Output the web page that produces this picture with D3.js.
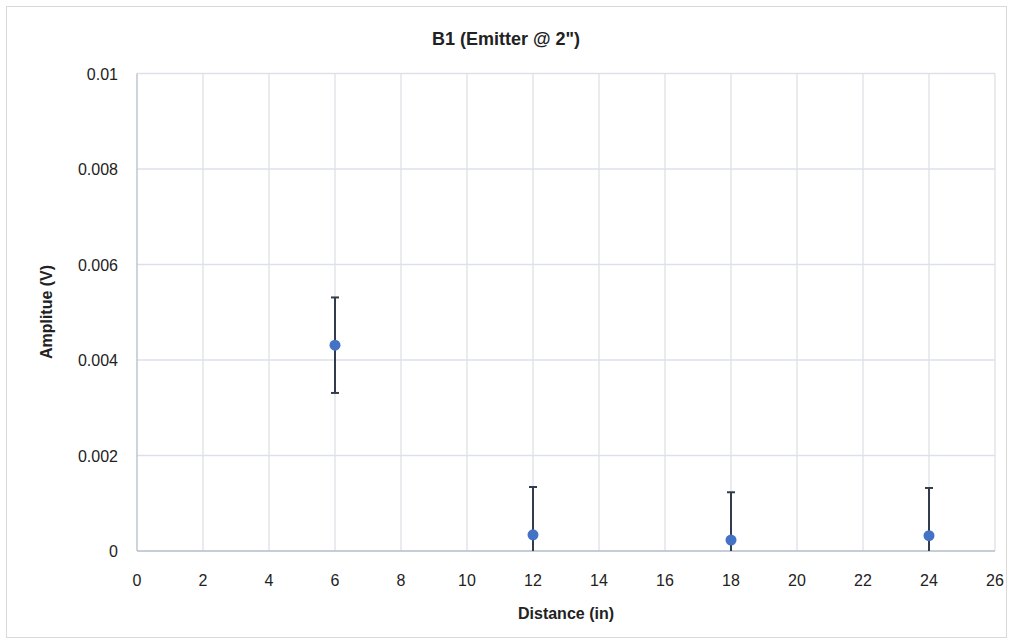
<!DOCTYPE html>
<html><head><meta charset="utf-8">
<script src="https://cdn.jsdelivr.net/npm/d3@7"></script>
<style>body{margin:0;background:#fff;font-family:"Liberation Sans",Arial,sans-serif}</style>
</head><body>
<svg id="c" width="1013" height="644"></svg>
<script>
const distances = [6, 12, 18, 24];
const amplitudes = [0.00431, 0.00034, 0.00023, 0.00032];
const errors = [0.001, 0.001, 0.001, 0.001];
const xTicks = [0,2,4,6,8,10,12,14,16,18,20,22,24,26];
const yTicks = [0, 0.002, 0.004, 0.006, 0.008, 0.01];
const yTickLabels = ["0","0.002","0.004","0.006","0.008","0.01"];

const svg = d3.select("#c");
const m = {l:137, r:995, t:73.5, b:551};
svg.append("rect").attr("x",6.5).attr("y",6.5).attr("width",1000).attr("height",631)
  .attr("fill","#fff").attr("stroke","#d9d9d9");
const x = d3.scaleLinear().domain([0,26]).range([m.l,m.r]);
const y = d3.scaleLinear().domain([0,0.01]).range([m.b,m.t]);

const g = svg.append("g");
// gridlines
g.selectAll(".vg").data(xTicks.slice(1)).enter().append("line")
 .attr("x1",d=>x(d)).attr("x2",d=>x(d)).attr("y1",m.t).attr("y2",m.b)
 .attr("stroke","#dde1e7").attr("stroke-width",1.3);
g.selectAll(".hg").data(yTicks.slice(1)).enter().append("line")
 .attr("x1",m.l).attr("x2",m.r).attr("y1",d=>y(d)).attr("y2",d=>y(d))
 .attr("stroke","#dde1e7").attr("stroke-width",1.3);
// axes lines
g.append("line").attr("x1",m.l).attr("x2",m.l).attr("y1",m.t).attr("y2",m.b).attr("stroke","#b4bccb").attr("stroke-width",1.3);
g.append("line").attr("x1",m.l).attr("x2",m.r).attr("y1",m.b).attr("y2",m.b).attr("stroke","#b4bccb").attr("stroke-width",1.3);

// tick labels
g.selectAll(".xt").data(xTicks).enter().append("text")
 .attr("x",d=>x(d)).attr("y",586).attr("text-anchor","middle")
 .attr("font-size",16).attr("fill","#222").text(d=>d);
g.selectAll(".yt").data(yTicks).enter().append("text")
 .attr("x",118).attr("y",d=>y(d)+6).attr("text-anchor","end")
 .attr("font-size",16).attr("fill","#222").text((d,i)=>yTickLabels[i]);

// error bars
const pts = distances.map((d,i)=>({x:d,y:amplitudes[i],e:errors[i]}));
const clip = v=>Math.max(0,Math.min(0.01,v));
const eb = g.selectAll(".eb").data(pts).enter().append("g");
eb.append("line").attr("x1",d=>x(d.x)).attr("x2",d=>x(d.x))
 .attr("y1",d=>y(clip(d.y+d.e))).attr("y2",d=>y(clip(d.y-d.e)))
 .attr("stroke","#333c4c").attr("stroke-width",2);
eb.append("line").attr("x1",d=>x(d.x)-4).attr("x2",d=>x(d.x)+4)
 .attr("y1",d=>y(d.y+d.e)).attr("y2",d=>y(d.y+d.e))
 .attr("stroke","#333c4c").attr("stroke-width",2);
eb.filter(d=>d.y-d.e>=0).append("line").attr("x1",d=>x(d.x)-4).attr("x2",d=>x(d.x)+4)
 .attr("y1",d=>y(d.y-d.e)).attr("y2",d=>y(d.y-d.e))
 .attr("stroke","#333c4c").attr("stroke-width",2);
// points
g.selectAll(".pt").data(pts).enter().append("circle")
 .attr("cx",d=>x(d.x)).attr("cy",d=>y(d.y)).attr("r",5.5).attr("fill","#4472C4");

// titles
svg.append("text").attr("x",506).attr("y",45).attr("text-anchor","middle")
 .attr("font-size",18).attr("font-weight","bold").attr("fill","#222").text('B1 (Emitter @ 2")');
svg.append("text").attr("x",566).attr("y",619).attr("text-anchor","middle")
 .attr("font-size",16).attr("font-weight","bold").attr("fill","#222").text("Distance (in)");
svg.append("text").attr("transform","translate(52,312) rotate(-90)").attr("text-anchor","middle")
 .attr("font-size",16).attr("font-weight","bold").attr("fill","#222").text("Amplitue (V)");
</script>
</body></html>
